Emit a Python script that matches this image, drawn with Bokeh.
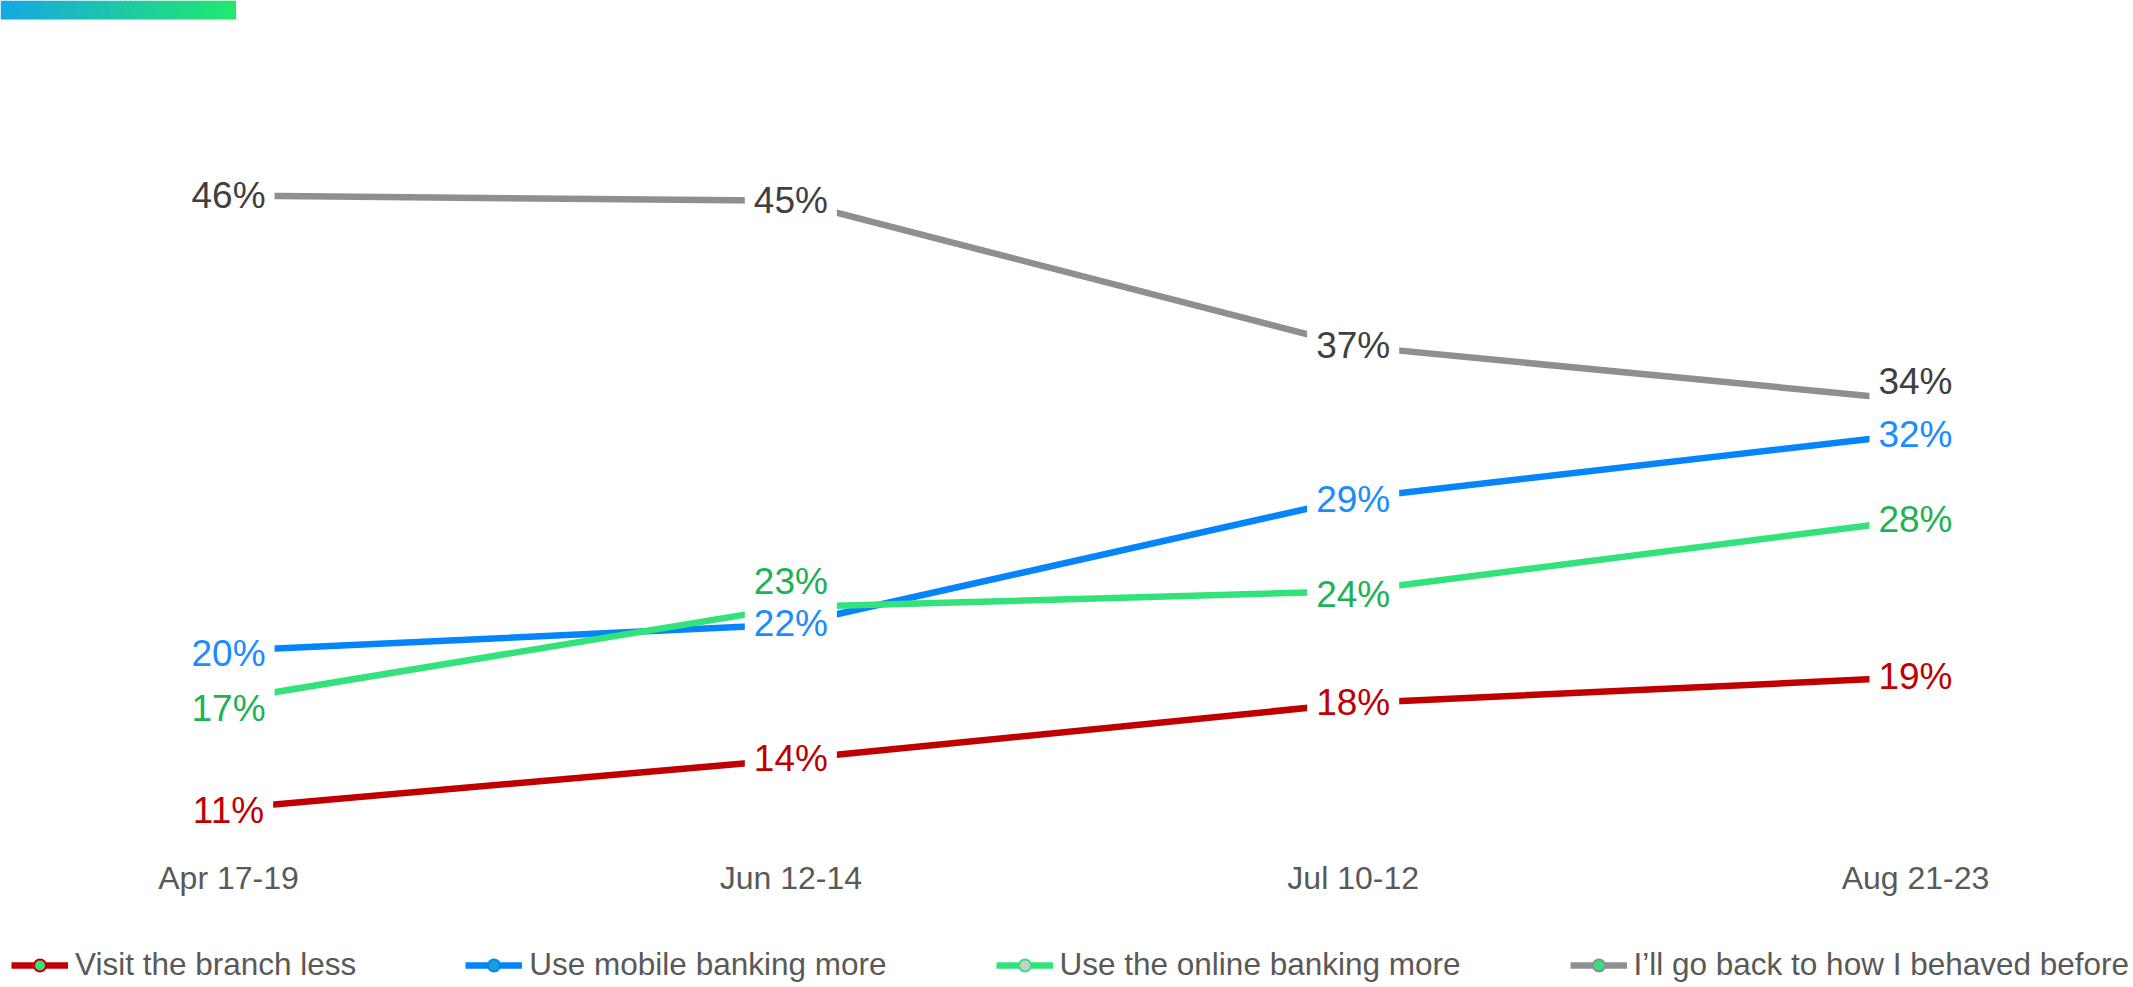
from bokeh.plotting import figure
from bokeh.models import Range1d, Label, Legend, LegendItem, BoxAnnotation
from bokeh.embed import file_html
from bokeh.resources import INLINE

# ---------------- data ----------------
periods = ["Apr 17-19", "Jun 12-14", "Jul 10-12", "Aug 21-23"]

series_names = ["Visit the branch less", "Use mobile banking more",
                "Use the online banking more", "I\u2019ll go back to how I behaved before"]

branch_less = [11.0, 13.8, 17.0, 18.5]
mobile_more = [20.0, 21.5, 28.7, 32.4]
online_more = [17.2, 22.5, 23.4, 27.5]
go_back = [46.0, 45.7, 37.4, 34.3]

branch_less_labels = ["11%", "14%", "18%", "19%"]
mobile_more_labels = ["20%", "22%", "29%", "32%"]
online_more_labels = ["17%", "23%", "24%", "28%"]
go_back_labels = ["46%", "45%", "37%", "34%"]

# ---------------- styles ----------------
FONT = "Liberation Sans"
W, H = 2133, 987

line_colors = ["#C00000", "#0684FA", "#33E27A", "#8F8F8F"]
label_colors = ["#C00000", "#1A8CFF", "#1DB254", "#404040"]
marker_fill = ["#33E27A", "#17A0D4", "#CCCCCC", "#33E27A"]
label_offsets = [
    [-3, 0, 0, 0],
    [-3, 1, -2, -1],
    [-9, 25, -4, -1],
    [0, 0, 0, 18],
]

p = figure(width=W, height=H, output_backend="svg", toolbar_location=None,
           x_range=Range1d(-0.4055, 3.3877), y_range=Range1d(0.77, 57.14),
           x_axis_location=None, y_axis_location=None,
           min_border_left=0, min_border_right=0, min_border_top=0, min_border_bottom=0)
p.outline_line_color = None
p.grid.visible = False
p.background_fill_color = "white"
p.border_fill_color = "white"

xs = list(range(len(periods)))
all_vals = [branch_less, mobile_more, online_more, go_back]
all_labels = [branch_less_labels, mobile_more_labels, online_more_labels, go_back_labels]

# category labels along the bottom (positioned by the x scale)
for i, name in enumerate(periods):
    p.add_layout(Label(x=i, y=110, y_units="screen", text=name, text_align="center",
                       text_baseline="middle", text_font=FONT, text_font_size="32px",
                       text_color="#595959"))

items = []
for k, (vals, labs) in enumerate(zip(all_vals, all_labels)):
    lr = p.line(xs, vals, line_color=line_colors[k], line_width=6.5)
    mr = p.scatter(xs, vals, marker="circle", size=8, fill_color=marker_fill[k],
                   line_color=line_colors[k], line_width=2)
    items.append(LegendItem(label=series_names[k], renderers=[lr, mr]))
    for i, (v, t) in enumerate(zip(vals, labs)):
        p.add_layout(Label(x=i, y=v, text=t, text_align="center", text_baseline="middle",
                           y_offset=label_offsets[k][i], text_font=FONT,
                           text_font_size="37px", text_color=label_colors[k],
                           background_fill_color="white",
                           padding={"left": 9, "right": 9, "top": 3, "bottom": 4}))

legend = Legend(items=items, orientation="horizontal", location=(11, 4),
                spacing=109, glyph_width=57, glyph_height=30, label_standoff=7,
                padding=0, margin=0, border_line_color=None, background_fill_alpha=0,
                label_text_font=FONT, label_text_font_size="31.5px",
                label_text_color="#595959")
p.add_layout(legend)

# gradient accent bar, top-left
c0 = (22, 168, 226)
c1 = (34, 232, 110)
n = 47
for i in range(n):
    t = i / (n - 1)
    col = "#%02x%02x%02x" % tuple(int(round(a + (b - a) * t)) for a, b in zip(c0, c1))
    p.add_layout(BoxAnnotation(left=i * 5, right=i * 5 + 5.6, top=H, bottom=H - 19,
                               left_units="screen", right_units="screen",
                               top_units="screen", bottom_units="screen",
                               fill_color=col, fill_alpha=1, line_color=None))

open("out.html", "w").write(file_html(p, INLINE))
